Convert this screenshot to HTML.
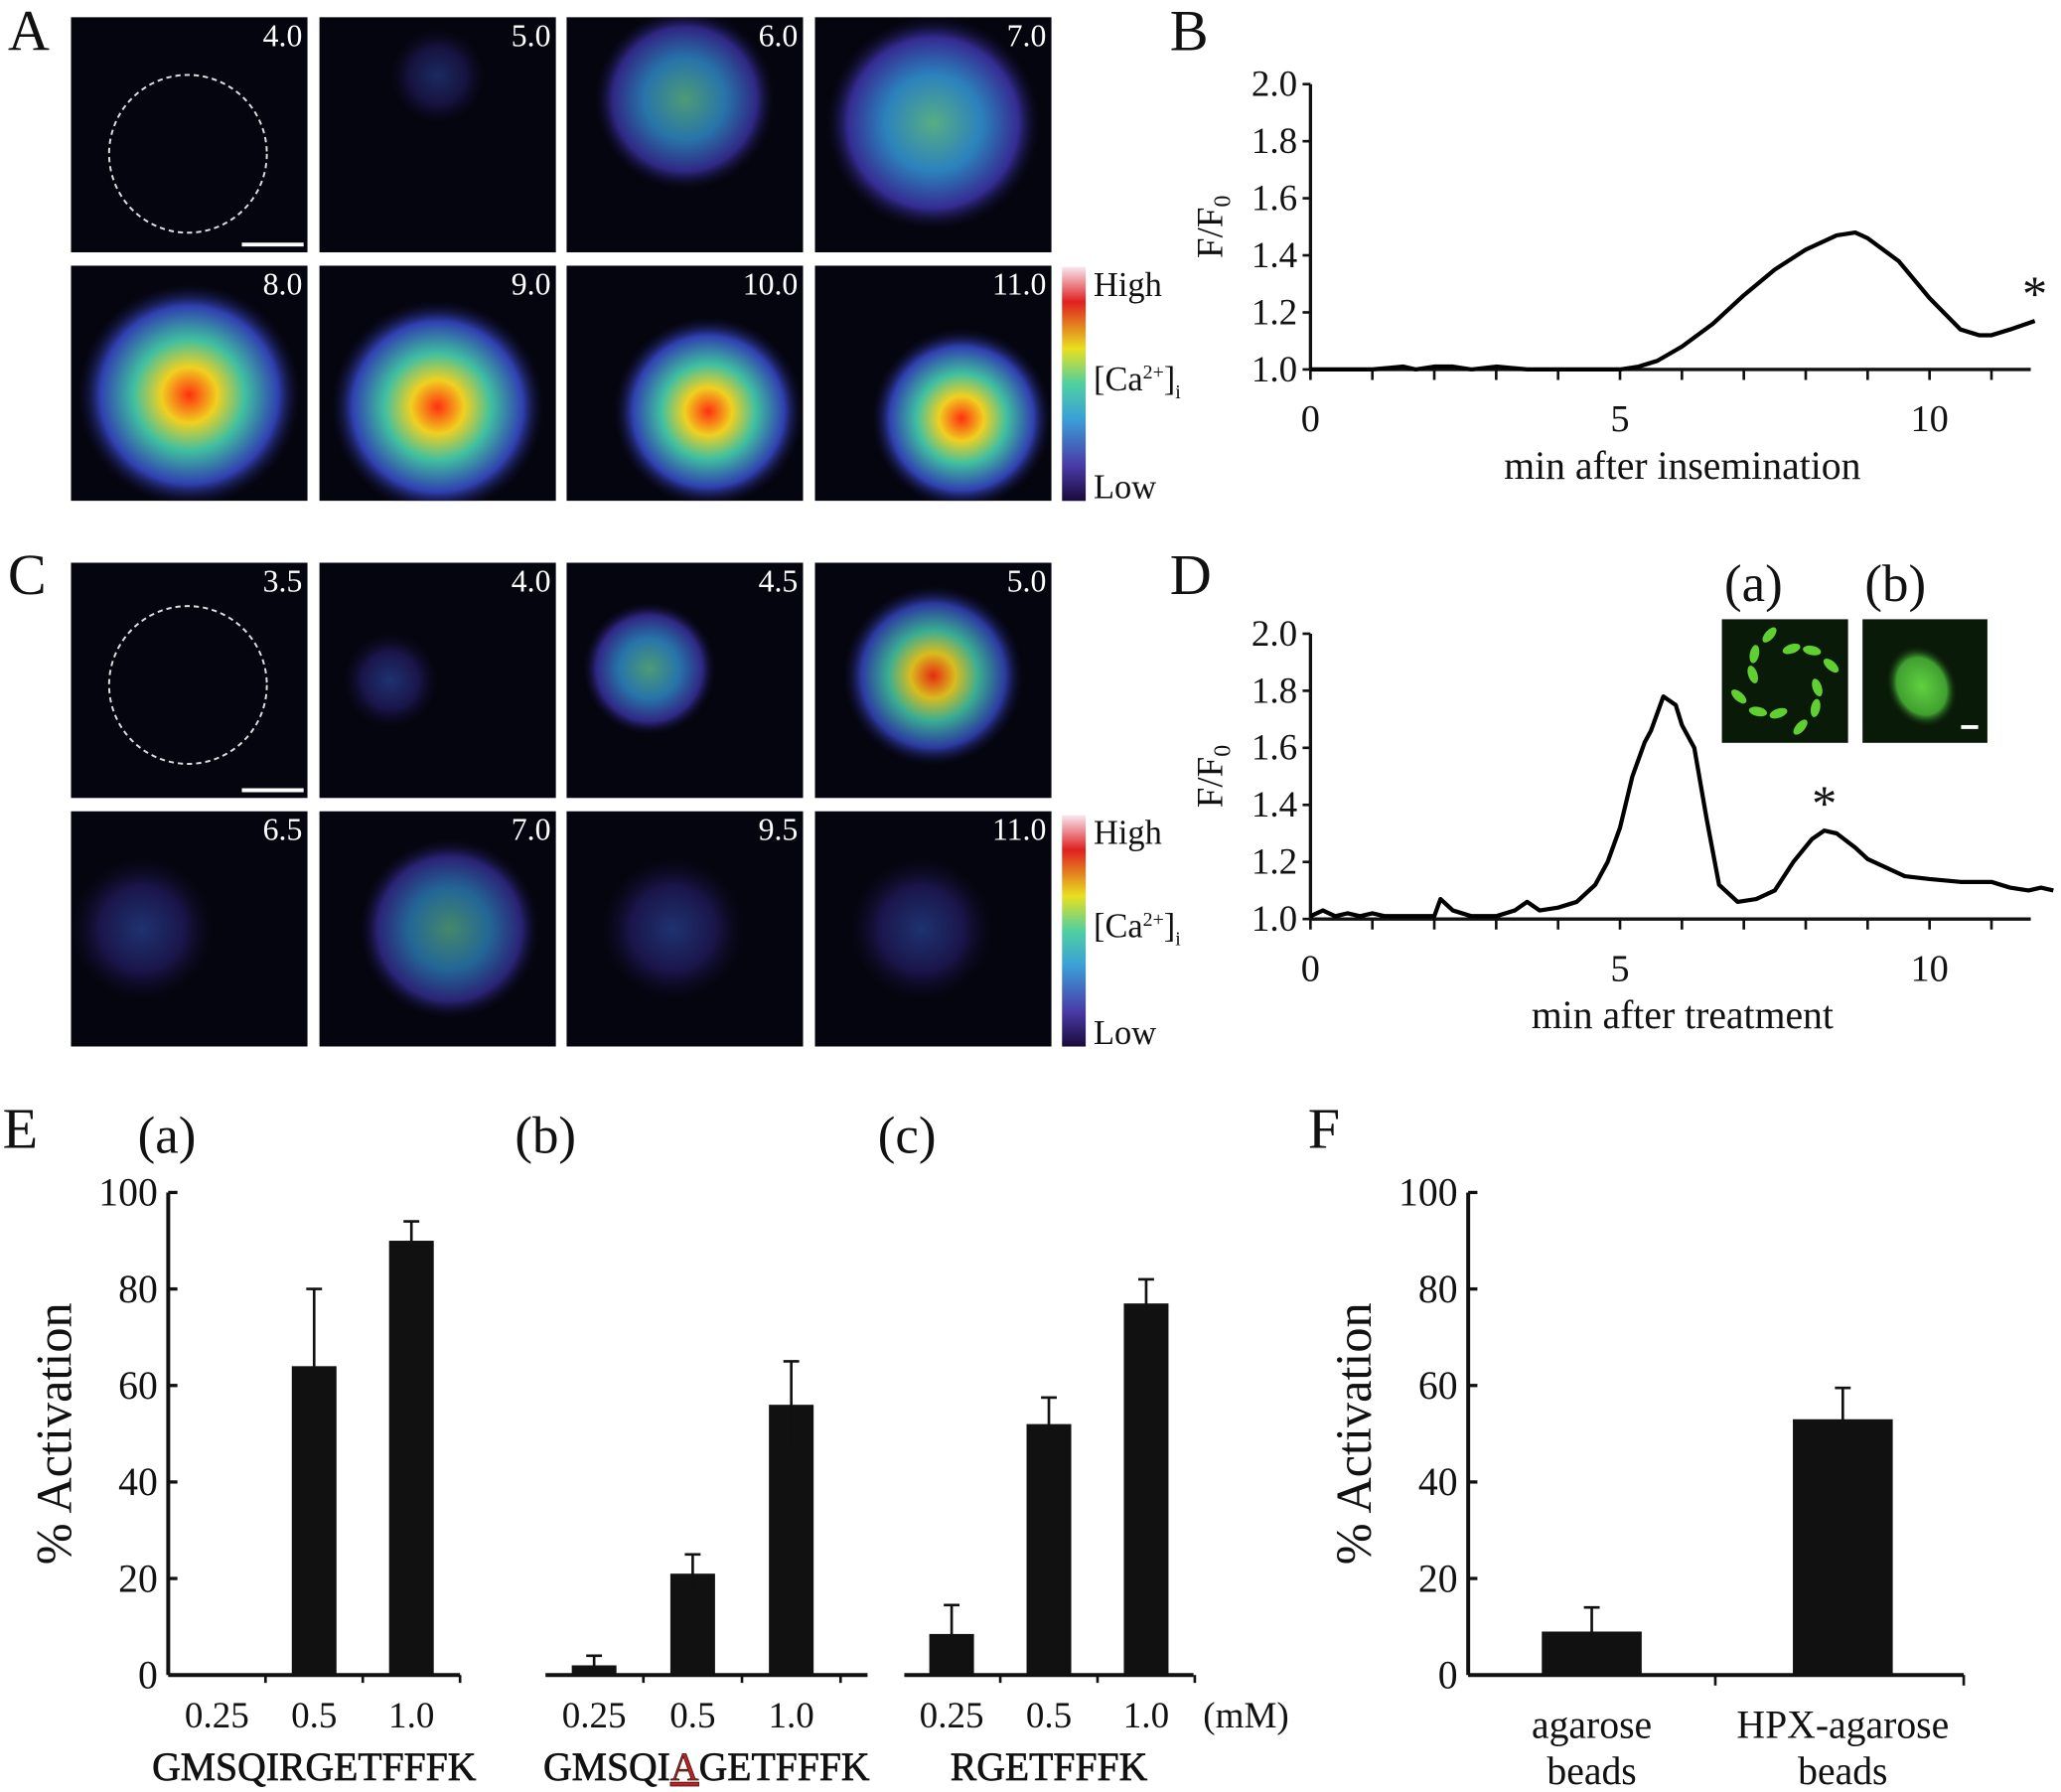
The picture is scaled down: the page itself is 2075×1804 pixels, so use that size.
<!DOCTYPE html>
<html><head><meta charset="utf-8"><style>
html,body{margin:0;padding:0;background:#fff}
svg{display:block}
text{font-family:"Liberation Serif",serif;fill:#111}
</style></head><body>
<svg id="fig" width="2075" height="1804" viewBox="0 0 1568 1363" preserveAspectRatio="none">
<defs>
<linearGradient id="cbar" x1="0" y1="1" x2="0" y2="0">
<stop offset="0" stop-color="#1a0a3a"/><stop offset="0.15" stop-color="#4a3aa8"/><stop offset="0.35" stop-color="#3aa0d8"/><stop offset="0.5" stop-color="#50d0a0"/><stop offset="0.65" stop-color="#e8e020"/><stop offset="0.85" stop-color="#e02020"/><stop offset="1" stop-color="#f8e8f0"/>
</linearGradient>
<radialGradient id="hot"><stop offset="0" stop-color="#ff3010"/><stop offset="0.25" stop-color="#f0d020"/><stop offset="0.5" stop-color="#40c0a0"/><stop offset="0.8" stop-color="#3040b0"/><stop offset="1" stop-color="#101030" stop-opacity="0"/></radialGradient>
<radialGradient id="warm"><stop offset="0" stop-color="#60c090"/><stop offset="0.45" stop-color="#3090d0"/><stop offset="0.8" stop-color="#3a30a0"/><stop offset="1" stop-color="#101030" stop-opacity="0"/></radialGradient>
<radialGradient id="cool"><stop offset="0" stop-color="#3050b0"/><stop offset="0.6" stop-color="#282070"/><stop offset="1" stop-color="#101030" stop-opacity="0"/></radialGradient>
<radialGradient id="grn"><stop offset="0" stop-color="#60d040"/><stop offset="0.7" stop-color="#40a030"/><stop offset="1" stop-color="#0a200a" stop-opacity="0"/></radialGradient>
</defs>
<g id="micro"></g>
<g id="charts"></g>
</svg>
<script>
// ---------- data ----------
const bTime = [0,1,1.5,1.7,2,2.3,2.6,3,3.5,4,4.5,5,5.3,5.6,6,6.5,7,7.5,8,8.5,8.8,9,9.5,10,10.5,10.8,11,11.3,11.7];
const bRatio = [1.0,1.0,1.01,1.0,1.01,1.01,1.0,1.01,1.0,1.0,1.0,1.0,1.01,1.03,1.08,1.16,1.26,1.35,1.42,1.47,1.48,1.46,1.38,1.25,1.14,1.12,1.12,1.14,1.17];
const dTime = [0,0.2,0.4,0.6,0.8,1.0,1.2,1.5,1.8,2.0,2.1,2.3,2.6,3.0,3.3,3.5,3.7,4.0,4.3,4.6,4.8,5.0,5.2,5.4,5.5,5.7,5.9,6.0,6.2,6.4,6.6,6.9,7.2,7.5,7.8,8.1,8.3,8.5,8.8,9.0,9.3,9.6,10,10.5,11,11.3,11.6,11.8,12];
const dRatio = [1.01,1.03,1.01,1.02,1.01,1.02,1.01,1.01,1.01,1.01,1.07,1.03,1.01,1.01,1.03,1.06,1.03,1.04,1.06,1.12,1.2,1.32,1.5,1.62,1.66,1.78,1.75,1.68,1.6,1.35,1.12,1.06,1.07,1.1,1.2,1.28,1.31,1.30,1.25,1.21,1.18,1.15,1.14,1.13,1.13,1.11,1.10,1.11,1.10];
const timeTicks = [0,5,10];
const ratioTicks = [1.0,1.2,1.4,1.6,1.8,2.0];
const doseLabels = ["0.25","0.5","1.0"];
const eaVals = [0,64,90]; const eaErr = [0,16,4];
const ebVals = [2,21,56]; const ebErr = [2,4,9];
const ecVals = [8.5,52,77]; const ecErr = [6,5.5,5];
const fCats = ["agarose|beads","HPX-agarose|beads"];
const fVals = [9,53]; const fErr = [5,6.5];
const pctTicks = [0,20,40,60,80,100];

const NS="http://www.w3.org/2000/svg";
const charts=document.getElementById('charts');
function mk(tag,attrs,parent){const e=document.createElementNS(NS,tag);for(const k in attrs)e.setAttribute(k,attrs[k]);(parent||charts).appendChild(e);return e;}
function txt(s,x,y,size,anchor,parent){const t=mk('text',{x:x,y:y,'font-size':size,'text-anchor':anchor||'start'},parent);t.textContent=s;return t;}

// ---------- micrographs ----------
const micro=document.getElementById('micro');
const defs=document.querySelector('defs');
const tileX=[54,243,431,620], rowsA=[13,202], rowsC=[428,617];
const labA=["4.0","5.0","6.0","7.0","8.0","9.0","10.0","11.0"];
const labC=["3.5","4.0","4.5","5.0","6.5","7.0","9.5","11.0"];
const fillsA=[null,[0.5,0.25,0.2,'cool',0.5],[0.5,0.35,0.38,'warm',0.8],[0.5,0.45,0.45,'warm',0.9],[0.5,0.55,0.47,'hot',1],[0.5,0.6,0.45,'hot',1],[0.6,0.62,0.4,'hot',1],[0.62,0.65,0.38,'hot',1]];
const fillsC=[null,[0.3,0.5,0.2,'cool',0.6],[0.35,0.45,0.28,'warm',0.8],[0.5,0.48,0.38,'hot',0.9],[0.3,0.5,0.3,'cool',0.6],[0.55,0.5,0.38,'warm',0.7],[0.45,0.5,0.3,'cool',0.6],[0.45,0.5,0.3,'cool',0.6]];
let cid=0;
function tiles(rows,labs,fills,pre){
  let i=0;
  rows.forEach(y=>tileX.forEach(x=>{
    const cp=mk('clipPath',{id:'cp'+cid},defs);mk('rect',{x:x,y:y,width:180,height:179},cp);
    const g=mk('g',{'clip-path':'url(#cp'+cid+')'},micro);cid++;
    
    
    mk('rect',{x:x,y:y,width:180,height:179,fill:'#050510'},g);
    const f=fills[i];
    if(f){mk('circle',{cx:x+180*f[0],cy:y+179*f[1],r:180*f[2],fill:'url(#'+f[3]+')',opacity:f[4]},g);}
    else{mk('circle',{cx:x+89,cy:y+(pre==='a'?104:93),r:60,fill:'none',stroke:'#ddd','stroke-width':1.5,'stroke-dasharray':'4 3'},g);
      mk('line',{x1:x+130,y1:y+173,x2:x+177,y2:y+173,stroke:'#fff','stroke-width':3},g);}
    const t=txt(labs[i],x+176,y+22,24,'end',g);t.setAttribute('style','fill:#fff');
    i++;
  }));
}
tiles(rowsA,labA,fillsA,'a');tiles(rowsC,labC,fillsC,'c');
[[203,381],[620,796]].forEach((r,k)=>{
  const g=mk('g',{},micro);
  
  
  mk('rect',{x:808,y:r[0],width:18,height:r[1]-r[0],fill:'url(#cbar)'},g);
  txt('High',832,r[0]+22,26,'start',g);
  const t=txt('[Ca',832,(r[0]+r[1])/2+5,26,'start',g);
  const s1=mk('tspan',{dy:-9,'font-size':15},t);s1.textContent='2+';
  const s2=mk('tspan',{dy:9,'font-size':26},t);s2.textContent=']';
  const s3=mk('tspan',{dy:6,'font-size':15},t);s3.textContent='i';
  txt('Low',832,r[1]-2,26,'start',g);
});
// panel letters
[['A',6,38],['B',890,38],['C',6,452],['D',890,452],['E',2,873],['F',995,873]].forEach(p=>{
  const t=txt(p[0],p[1],p[2],44);
});

// ---------- line charts ----------
function lineChart(name,y0px,xs,ys,xlabel,star){
  const g=mk('g',{});
  
  
  const x0=997, pxMin=47.1, pyU=217;
  const X=v=>x0+v*pxMin, Y=v=>y0px-(v-1)*pyU;
  mk('line',{x1:x0,y1:Y(1),x2:1545,y2:Y(1),stroke:'#111','stroke-width':2.5},g);
  mk('line',{x1:x0,y1:Y(1),x2:x0,y2:Y(2),stroke:'#111','stroke-width':2.5},g);
  for(let m=0;m<=11.6;m++){mk('line',{x1:X(m),y1:Y(1),x2:X(m),y2:Y(1)+8,stroke:'#111','stroke-width':2},g);}
  ratioTicks.forEach(v=>{mk('line',{x1:x0-6,y1:Y(v),x2:x0,y2:Y(v),stroke:'#111','stroke-width':2},g);txt(v.toFixed(1),x0-10,Y(v)+9,28,'end',g);});
  timeTicks.forEach(v=>txt(String(v),X(v),Y(1)+47,29,'middle',g));
  txt(xlabel,1280,Y(1)+83,30,'middle',g);
  const yl=mk('text',{x:0,y:0,'font-size':28,'text-anchor':'middle',transform:`translate(930,${Y(1.5)}) rotate(-90)`},g);
  yl.textContent='F/F';const sub=mk('tspan',{dy:6,'font-size':18},yl);sub.textContent='0';
  const p=mk('polyline',{points:xs.map((v,i)=>X(v)+','+Y(ys[i])).join(' '),fill:'none',stroke:'#000','stroke-width':3.2,'stroke-linejoin':'round'},g);
  
  
  txt('*',X(star[0]),Y(star[1])+14,38,'middle',g);
}
lineChart('chart-b-insemination',281,bTime,bRatio,'min after insemination',[11.7,1.27]);
lineChart('chart-d-treatment',699,dTime,dRatio,'min after treatment',[8.3,1.41]);
// insets in D
(function(){
  const g=mk('g',{});
  
  
  mk('rect',{x:1310,y:471,width:96,height:94,fill:'#0a1a08'},g);
  for(let k=0;k<12;k++){const a=k*Math.PI/6+0.2;const r=25+(k%3)*6;const cx=1358+r*Math.cos(a),cy=518+r*Math.sin(a);mk('ellipse',{cx:cx,cy:cy,rx:7,ry:3.5,fill:'#60d030',transform:`rotate(${a*180/Math.PI+60} ${cx} ${cy})`},g);}
  mk('rect',{x:1417,y:471,width:95,height:94,fill:'#0a1a08'},g);
  mk('ellipse',{cx:1462,cy:522,rx:26,ry:32,fill:'url(#grn)',transform:'rotate(-25 1462 522)'},g);
  mk('line',{x1:1492,y1:553,x2:1505,y2:553,stroke:'#fff','stroke-width':3},g);
  txt('(a)',1334,457,40,'middle',g);txt('(b)',1442,457,40,'middle',g);
})();

// ---------- bar charts ----------
const y0=1274, pyPct=3.67;
const YP=v=>y0-v*pyPct;
function barGroup(name,axL,axR,centers,vals,errs,bw){
  const g=mk('g',{});
  
  
  mk('line',{x1:axL,y1:y0,x2:axR,y2:y0,stroke:'#111','stroke-width':3},g);
  vals.forEach((v,i)=>{
    const r=mk('rect',{x:centers[i]-bw/2,y:YP(v),width:bw,height:v*pyPct,fill:'#111'},g);
    
    
    if(errs[i]>0){
      mk('line',{x1:centers[i],y1:YP(v+errs[i]),x2:centers[i],y2:YP(v-errs[i]),stroke:'#111','stroke-width':2},g);
      mk('line',{x1:centers[i]-6,y1:YP(v+errs[i]),x2:centers[i]+6,y2:YP(v+errs[i]),stroke:'#111','stroke-width':2},g);
    }
  });
  return g;
}
function yAxisPct(x,lx){
  const g=mk('g',{});
  
  
  mk('line',{x1:x,y1:y0,x2:x,y2:YP(100),stroke:'#111','stroke-width':3},g);
  pctTicks.forEach(v=>{mk('line',{x1:x,y1:YP(v),x2:x+7,y2:YP(v),stroke:'#111','stroke-width':2.5},g);txt(String(v),x-8,YP(v)+10,30,'end',g);});
  const t=mk('text',{'font-size':38,'text-anchor':'middle',transform:`translate(${lx},${YP(50)}) rotate(-90)`},g);t.textContent='% Activation';
}
yAxisPct(128,54);
const groups=[['chart-e-a',128,350,[165,239,313],eaVals,eaErr,'GMSQIRGETFFFK','(a)',127],
              ['chart-e-b',415,660,[452,527,602],ebVals,ebErr,'GMSQIAGETFFFK','(b)',415],
              ['chart-e-c',688,908,[724,798,872],ecVals,ecErr,'RGETFFFK','(c)',690]];
groups.forEach(gp=>{
  const g=barGroup(gp[0],gp[1],gp[2],gp[3],gp[4],gp[5],34);
  const w=gp[3][1]-gp[3][0];
  [gp[3][0]-w/2,gp[3][0]+w/2,gp[3][1]+w/2,gp[3][2]+w/2].forEach(tx=>{if(tx>gp[1]+2)mk('line',{x1:tx,y1:y0,x2:tx,y2:y0+6,stroke:'#111','stroke-width':2},g);});
  gp[3].forEach((c,i)=>txt(doseLabels[i],c,1314,28,'middle',g));
  const cx=(gp[1]+gp[2])/2;
  let t;
  if(gp[0]==='chart-e-b'){
    t=txt('GMSQI',cx,1354,30,'middle',g);
    const a=mk('tspan',{'text-decoration':'underline',style:'fill:#c0201e'},t);a.textContent='A';
    const r=mk('tspan',{},t);r.textContent='GETFFFK';
  } else t=txt(gp[6],cx,1354,30,'middle',g);
  t.setAttribute('stroke','#111');t.setAttribute('stroke-width','0.5');
  txt(gp[7],gp[8],877,40,'middle',g);
});
txt('(mM)',948,1314,28,'middle');
// F
yAxisPct(1117,1043);
const gF=barGroup('chart-f',1117,1494,[1211,1402],fVals,fErr,76);
mk('line',{x1:1305,y1:y0,x2:1305,y2:y0+8,stroke:'#111','stroke-width':2},gF);
mk('line',{x1:1494,y1:y0,x2:1494,y2:y0+8,stroke:'#111','stroke-width':2},gF);
fCats.forEach((c,i)=>{const cx=[1211,1402][i];const p=c.split('|');txt(p[0],cx,1322,30,'middle',gF);txt(p[1],cx,1357,30,'middle',gF);});
</script>
</body></html>
